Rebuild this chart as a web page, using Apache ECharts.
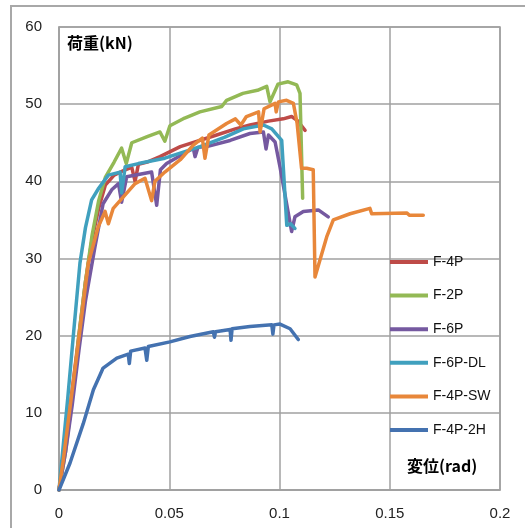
<!DOCTYPE html>
<html>
<head>
<meta charset="utf-8">
<script src="https://cdn.jsdelivr.net/npm/echarts@6/dist/echarts.min.js"></script>
<style>html,body{margin:0;padding:0;background:#fff}#c{width:525px;height:528px}</style>
</head>
<body>
<div id="c"></div>
<script>
const seriesNames = ['F-4P', 'F-2P', 'F-6P', 'F-6P-DL', 'F-4P-SW', 'F-4P-2H'];
const xTicks = [0, 0.05, 0.1, 0.15, 0.2];
const yTicks = [0, 10, 20, 30, 40, 50, 60];

const f4p = [[0,0],[0.003,6],[0.006,13],[0.009,20],[0.012,27],[0.015,32.5],[0.018,36.5],[0.021,39.5],[0.025,40.8],[0.03,41.5],[0.033,41.8],[0.0345,40.0],[0.036,42.2],[0.04,42.5],[0.0458,43.2],[0.055,44.5],[0.0715,46],[0.08,46.8],[0.0866,47.3],[0.095,47.8],[0.1017,48.1],[0.1055,48.4],[0.108,47.9],[0.1116,46.6]];
const f2p = [[0,0],[0.003,5],[0.006,12],[0.009,20],[0.012,27],[0.015,33],[0.018,37.5],[0.021,40.5],[0.025,42.5],[0.0284,44.3],[0.0305,42.3],[0.033,45.0],[0.04,45.8],[0.0458,46.4],[0.048,45.2],[0.0503,47.2],[0.057,48.2],[0.0639,49],[0.0738,49.7],[0.076,50.5],[0.0834,51.4],[0.09,51.8],[0.0942,52.3],[0.0957,50.3],[0.0993,52.6],[0.1039,52.9],[0.1078,52.5],[0.1093,51.4],[0.1105,37.8]];
const f6p = [[0,0],[0.003,5],[0.006,11],[0.009,18],[0.012,24.5],[0.0163,31.5],[0.020,37.1],[0.0239,38.9],[0.027,39.7],[0.0284,37.3],[0.0307,40.6],[0.042,41.2],[0.0443,36.9],[0.046,41.5],[0.0488,42.3],[0.0609,44.3],[0.0617,43.2],[0.063,44.4],[0.067,44.5],[0.0776,45.3],[0.0866,46.2],[0.0927,46.4],[0.0939,44.2],[0.095,46],[0.098,45.1],[0.1002,41.9],[0.1055,33.5],[0.107,35.4],[0.1108,36.1],[0.1176,36.3],[0.1221,35.4]];
const f6pdl = [[0,0],[0.002,6],[0.004,12],[0.0065,20],[0.0095,29.4],[0.012,34],[0.0148,37.6],[0.018,39.1],[0.0224,40.8],[0.0277,41.2],[0.0284,38.5],[0.030,41.9],[0.036,42.3],[0.048,43.0],[0.064,44.5],[0.075,45.7],[0.0836,46.8],[0.0927,47.3],[0.0965,46.8],[0.101,45.3],[0.1033,34.3],[0.105,34.5],[0.107,33.9]];
const f4psw = [[0,0],[0.002,4],[0.004,8.5],[0.0065,14],[0.0095,20.7],[0.0133,29.4],[0.0178,34.1],[0.0209,36.1],[0.0224,34.5],[0.0246,36.5],[0.0345,39.7],[0.039,40.4],[0.042,37.5],[0.0435,40],[0.048,41.2],[0.055,42.8],[0.0609,44.7],[0.065,45.6],[0.0662,43.0],[0.068,46.0],[0.076,47.5],[0.08,48.1],[0.0825,47.3],[0.085,48.4],[0.0905,49],[0.0912,46.4],[0.093,49.4],[0.098,50.1],[0.0985,49],[0.0995,50.3],[0.1032,50.5],[0.1063,50.1],[0.108,47.5],[0.110,41.7],[0.1123,41.7],[0.1153,41.5],[0.1161,27.6],[0.1214,32.8],[0.1244,35.0],[0.132,35.8],[0.141,36.5],[0.1418,35.8],[0.1577,35.9],[0.159,35.6],[0.1652,35.6]];
const f4p2h = [[0,0],[0.005,3.5],[0.011,8.6],[0.0156,13],[0.0186,14.9],[0.020,15.8],[0.0262,17.1],[0.0314,17.6],[0.0319,16.4],[0.0325,18.0],[0.039,18.4],[0.0398,16.8],[0.0405,18.6],[0.0503,19.2],[0.0594,19.9],[0.07,20.5],[0.0705,19.8],[0.071,20.5],[0.0776,20.8],[0.078,19.4],[0.0785,20.9],[0.0866,21.2],[0.0965,21.4],[0.097,20.2],[0.0975,21.4],[0.1002,21.5],[0.1048,20.9],[0.1085,19.5]];

const colors = ['#BE4B48', '#93B955', '#7559A0', '#40A0BE', '#E8873A', '#4472B0'];
const allData = [f4p, f2p, f6p, f6pdl, f4psw, f4p2h];

const chart = echarts.init(document.getElementById('c'), null, {renderer: 'canvas'});
chart.setOption({
  animation: false,
  color: colors,
  grid: {left: 59, top: 27, right: 25, bottom: 38, show: true, borderColor: '#a0a0a0', borderWidth: 1.5},
  xAxis: {
    type: 'value', min: xTicks[0], max: xTicks[xTicks.length - 1], interval: 0.05,
    axisLine: {show: true, lineStyle: {color: '#a0a0a0', width: 1.5}},
    axisTick: {show: false},
    splitLine: {show: true, lineStyle: {color: '#a0a0a0', width: 1.5}},
    axisLabel: {color: '#222', fontSize: 15, fontFamily: 'Liberation Sans', margin: 16}
  },
  yAxis: {
    type: 'value', min: yTicks[0], max: yTicks[yTicks.length - 1], interval: 10,
    axisLine: {show: true, lineStyle: {color: '#a0a0a0', width: 1.5}},
    axisTick: {show: false},
    splitLine: {show: true, lineStyle: {color: '#a0a0a0', width: 1.5}},
    axisLabel: {color: '#222', fontSize: 15, fontFamily: 'Liberation Sans', margin: 17}
  },
  legend: {
    orient: 'vertical', left: 385, top: 250, itemWidth: 38, itemHeight: 14, itemGap: 19.6,
    data: seriesNames.map((n, i) => ({name: n, icon: 'path://M0,0 L38,0 L38,4 L0,4 Z', itemStyle: {color: colors[i]}})),
    textStyle: {fontSize: 14, color: '#111', fontFamily: 'Liberation Sans'}
  },
  graphic: [
    {type: 'rect', shape: {x: 11, y: 6, width: 540, height: 560}, style: {fill: 'none', stroke: '#a8a8a8', lineWidth: 2}, silent: true, z: -10},
    {type: 'text', left: 67, top: 35, style: {text: '荷重(kN)', font: 'bold 16px "Noto Sans CJK JP"', fill: '#000'}},
    {type: 'text', left: 407, top: 458, style: {text: '変位(rad)', font: 'bold 16px "Noto Sans CJK JP"', fill: '#000'}}
  ],
  series: seriesNames.map((n, i) => ({
    name: n, type: 'line', data: allData[i], symbol: 'none', showSymbol: false,
    lineStyle: {width: 3.5, color: colors[i], cap: 'round', join: 'round'},
    itemStyle: {color: colors[i]}
  }))
});
</script>
</body>
</html>
